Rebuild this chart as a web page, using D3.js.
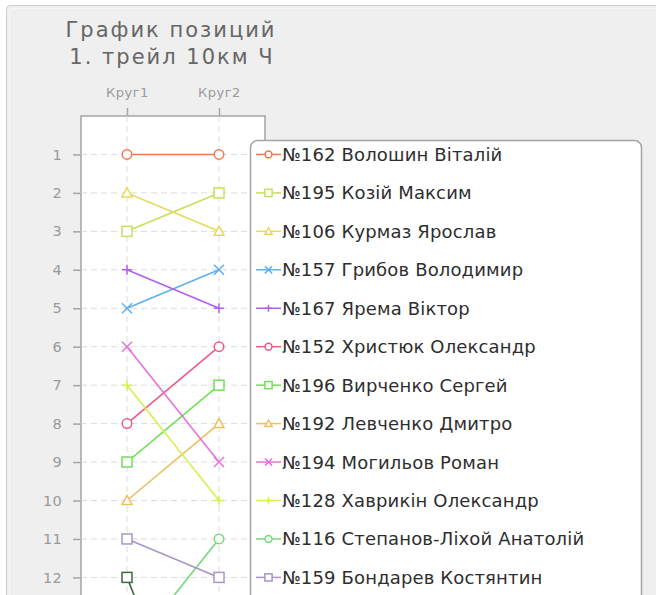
<!DOCTYPE html>
<html>
<head>
<meta charset="utf-8">
<script src="https://cdn.jsdelivr.net/npm/d3@7"></script>
<style>
  body { margin: 0; overflow: hidden; background: #fff; }
  text { font-family: "DejaVu Sans", Verdana, sans-serif; }
</style>
</head>
<body>
<div id="chart"></div>
<script>
// rounds and riders
var rounds = ["Круг1", "Круг2"];
var riders = [
  "№162 Волошин Віталій",
  "№195 Козій Максим",
  "№106 Курмаз Ярослав",
  "№157 Грибов Володимир",
  "№167 Ярема Віктор",
  "№152 Христюк Олександр",
  "№196 Вирченко Сергей",
  "№192 Левченко Дмитро",
  "№194 Могильов Роман",
  "№128 Хаврикін Олександр",
  "№116 Степанов-Ліхой Анатолій",
  "№159 Бондарев Костянтин",
  "…"
];
// positions after each round
var posRound1 = [1, 3, 2, 5, 4, 8, 9, 10, 6, 7, 14, 11, 12];
var posRound2 = [1, 2, 3, 4, 5, 6, 7, 8, 9, 10, 11, 12, 18];
var colors = ["#f07a4c", "#c6e05c", "#e6da5c", "#5eb0f0", "#b45ef0", "#f05a86",
              "#72e05a", "#f0be5c", "#e474d8", "#d6f04e", "#76d876", "#a696c6", "#3e6a3e"];
var shapes = ["circle", "square", "triangle", "cross", "plus", "circle",
              "square", "triangle", "cross", "plus", "circle", "square", "square"];
var positions = d3.range(1, 19);

var W = 656, H = 595;
var svg = d3.select("#chart").append("svg").attr("width", W).attr("height", H);

// outer panel
svg.append("rect").attr("x", 6.5).attr("y", 5.5).attr("width", 700).attr("height", 700)
  .attr("rx", 4).attr("fill", "#efefef").attr("stroke", "#cfcfcf");
svg.append("rect").attr("x", 9.5).attr("y", 8.5).attr("width", 700).attr("height", 700)
  .attr("rx", 3).attr("fill", "none").attr("stroke", "#f7f7f7");

// title
var title = svg.append("text").attr("text-anchor", "middle").attr("fill", "#666")
  .style("font-size", "21px").style("letter-spacing", "2px");
title.append("tspan").attr("x", 171).attr("y", 37).text("График позиций");
title.append("tspan").attr("x", 172).attr("y", 64).text("1. трейл 10км Ч");

var plotLeft = 81, plotTop = 116, plotRight = 265;
var x = d3.scalePoint().domain(rounds).range([plotLeft, plotRight]).padding(0.5);
var y = d3.scaleLinear().domain([0, 1]).range([plotTop, plotTop + 38.45]);

// plot area
svg.append("rect").attr("x", plotLeft).attr("y", plotTop).attr("width", plotRight - plotLeft).attr("height", 800)
  .attr("fill", "#fff").attr("stroke", "#a4a4a4").attr("stroke-width", 1.5);

// grid
svg.append("g").selectAll("line").data(positions).enter().append("line")
  .attr("x1", plotLeft).attr("x2", plotRight).attr("y1", function(d) { return y(d); }).attr("y2", function(d) { return y(d); })
  .attr("stroke", "#dcdcdc").attr("stroke-dasharray", "6,4");
svg.append("g").selectAll("line").data(rounds).enter().append("line")
  .attr("x1", function(d) { return x(d); }).attr("x2", function(d) { return x(d); })
  .attr("y1", plotTop).attr("y2", 900)
  .attr("stroke", "#dcdcdc").attr("stroke-dasharray", "6,4");

// axes
var yAxis = svg.append("g").attr("transform", "translate(" + plotLeft + ",0)")
  .call(d3.axisLeft(y).tickValues(positions).tickSize(8).tickSizeOuter(0).tickPadding(11).tickFormat(d3.format("d")));
var xAxis = svg.append("g").attr("transform", "translate(0," + plotTop + ")")
  .call(d3.axisTop(x).tickSize(8).tickSizeOuter(0).tickPadding(11));
[yAxis, xAxis].forEach(function(a) {
  a.select(".domain").remove();
  a.selectAll("line").attr("stroke", "#a4a4a4").attr("stroke-width", 1.5);
  a.selectAll("text").attr("fill", "#9a9a9a").style("font-family", "DejaVu Sans").style("font-size", "13px");
});
xAxis.selectAll("text").style("letter-spacing", "0.5px");
yAxis.selectAll("text").style("font-size", "14.5px").style("letter-spacing", "0.3px");

function marker(g, shape, s, color) {
  if (shape == "circle") {
    g.append("circle").attr("r", s * 0.95);
  } else if (shape == "square") {
    g.append("rect").attr("x", -s).attr("y", -s).attr("width", 2 * s).attr("height", 2 * s);
  } else if (shape == "triangle") {
    g.append("path").attr("d", "M0," + (-s) + "L" + s + "," + (s * 0.8) + "L" + (-s) + "," + (s * 0.8) + "Z");
  } else if (shape == "cross") {
    g.append("path").attr("d", "M" + (-s) + "," + (-s) + "L" + s + "," + s + "M" + (-s) + "," + s + "L" + s + "," + (-s));
  } else {
    g.append("path").attr("d", "M" + (-s) + ",0L" + s + ",0M0," + (-s) + "L0," + s);
  }
  g.selectAll("*").attr("fill", "#fff").attr("stroke", color).attr("stroke-width", 1.5);
}

var series = riders.map(function(name, i) {
  return { name: name, color: colors[i], shape: shapes[i], pos: [posRound1[i], posRound2[i]] };
});

var line = d3.line().x(function(d, j) { return x(rounds[j]); }).y(function(d) { return y(d); });
var plot = svg.append("g");
series.forEach(function(s) {
  plot.append("path").attr("d", line(s.pos)).attr("fill", "none")
    .attr("stroke", s.color).attr("stroke-width", 1.6);
});
series.forEach(function(s) {
  s.pos.forEach(function(p, j) {
    var g = plot.append("g").attr("transform", "translate(" + x(rounds[j]) + "," + y(p) + ")");
    marker(g, s.shape, 5, s.color);
  });
});

// legend
svg.append("rect").attr("x", 250.5).attr("y", 140.5).attr("width", 391).attr("height", 800)
  .attr("rx", 7).attr("fill", "#fff").attr("stroke", "#a4a4a4").attr("stroke-width", 1.5);
var items = svg.append("g").selectAll("g").data(series).enter().append("g")
  .attr("transform", function(d, i) { return "translate(256," + y(i + 1) + ")"; });
items.append("line").attr("x1", 0).attr("x2", 25)
  .attr("stroke", function(d) { return d.color; }).attr("stroke-width", 1.5);
items.each(function(d) {
  var g = d3.select(this).append("g").attr("transform", "translate(12.5,0)");
  marker(g, d.shape, 3.6, d.color);
});
items.append("text").attr("x", 26).attr("y", 6.5).attr("fill", "#2e2e2e")
  .style("font-size", "18px").style("letter-spacing", "0.15px").text(function(d) { return d.name; });
</script>
</body>
</html>
